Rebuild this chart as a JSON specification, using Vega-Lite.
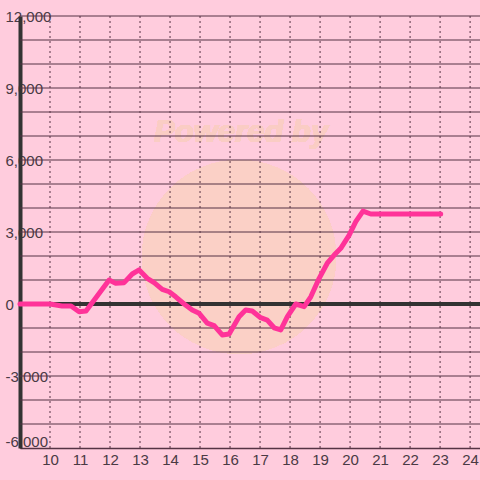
{
  "$schema": "https://vega.github.io/schema/vega-lite/v6.json",
  "autosize": {"type": "none"},
  "padding": {"left": 20, "top": 16, "right": 0, "bottom": 32},
  "width": 460,
  "height": 432,
  "background": "#ffccdd",
  "config": {"view": {"stroke": null}},
  "datasets": {
    "series": [
      {"h": 9.0, "v": 0}, {"h": 10.0, "v": 0}, {"h": 10.4, "v": -80}, {"h": 10.7, "v": -80},
      {"h": 10.97, "v": -320}, {"h": 11.2, "v": -290}, {"h": 11.97, "v": 1000}, {"h": 12.19, "v": 860},
      {"h": 12.47, "v": 890}, {"h": 12.74, "v": 1250}, {"h": 12.97, "v": 1420}, {"h": 13.24, "v": 1070},
      {"h": 13.47, "v": 890}, {"h": 13.74, "v": 610}, {"h": 13.97, "v": 510}, {"h": 14.19, "v": 300},
      {"h": 14.47, "v": 0}, {"h": 14.74, "v": -250}, {"h": 14.97, "v": -390}, {"h": 15.24, "v": -800},
      {"h": 15.47, "v": -900}, {"h": 15.74, "v": -1290}, {"h": 15.97, "v": -1250}, {"h": 16.3, "v": -530},
      {"h": 16.52, "v": -250}, {"h": 16.74, "v": -290}, {"h": 17.02, "v": -570}, {"h": 17.24, "v": -670},
      {"h": 17.47, "v": -990}, {"h": 17.69, "v": -1080}, {"h": 17.91, "v": -530}, {"h": 18.19, "v": 0},
      {"h": 18.47, "v": -110}, {"h": 18.69, "v": 300}, {"h": 18.97, "v": 1070}, {"h": 19.24, "v": 1700},
      {"h": 19.47, "v": 2040}, {"h": 19.69, "v": 2320}, {"h": 19.97, "v": 2870}, {"h": 20.19, "v": 3430},
      {"h": 20.43, "v": 3870}, {"h": 20.69, "v": 3750}, {"h": 23.02, "v": 3750}
    ],
    "hours": [
      {"h": 10}, {"h": 11}, {"h": 12}, {"h": 13}, {"h": 14}, {"h": 15}, {"h": 16}, {"h": 17},
      {"h": 18}, {"h": 19}, {"h": 20}, {"h": 21}, {"h": 22}, {"h": 23}, {"h": 24}
    ],
    "levels": [
      {"v": -5000}, {"v": -4000}, {"v": -3000}, {"v": -2000}, {"v": -1000}, {"v": 1000},
      {"v": 2000}, {"v": 3000}, {"v": 4000}, {"v": 5000}, {"v": 6000}, {"v": 7000}, {"v": 8000},
      {"v": 9000}, {"v": 10000}, {"v": 11000}, {"v": 12000}
    ]
  },
  "layer": [
    {
      "data": {"name": "series"},
      "mark": {"type": "point", "filled": true, "fill": "#fbd0c6", "opacity": 1, "size": 37600},
      "encoding": {
        "x": {
          "datum": 16.3, "type": "quantitative",
          "scale": {"domain": [9, 24.33], "nice": false, "zero": false},
          "axis": {
            "title": null,
            "tickCount": 15,
            "labelExpr": "datum.value < 9.5 ? '' : datum.label",
            "grid": false,
            "ticks": false, "tickSize": 0,
            "domain": true, "domainColor": "#553344", "domainWidth": 1.5,
            "labelPadding": 4, "labelFont": "Liberation Sans", "labelFontSize": 15, "labelColor": "#4a3a44",
            "labelFlush": false, "labelOverlap": false
          }
        },
        "y": {
          "datum": 1960, "type": "quantitative",
          "scale": {"domain": [-6000, 12000], "nice": false},
          "axis": {
            "title": null,
            "tickCount": 18,
            "labelExpr": "datum.value % 3000 === 0 ? replace(format(datum.value, ','), '\u2212', '-') : ''",
            "grid": false,
            "ticks": false, "tickSize": 0,
            "domain": true, "domainColor": "#333333", "domainWidth": 4,
            "labelAlign": "left", "labelPadding": 15, "labelFont": "Liberation Sans", "labelFontSize": 15, "labelColor": "#4a3a44",
            "labelOffset": {"condition": {"test": "datum.value == -6000", "value": -7}, "value": 0},
            "labelFlush": false, "labelOverlap": false
          }
        }
      }
    },
    {
      "data": {"name": "series"},
      "mark": {"type": "text", "text": "Powered by", "font": "Liberation Sans", "fontSize": 31, "fontWeight": "bold", "fontStyle": "italic", "color": "#facdc4", "align": "center", "baseline": "middle"},
      "encoding": {
        "x": {"datum": 16.37, "type": "quantitative"},
        "y": {"datum": 7125, "type": "quantitative"}
      }
    },
    {
      "data": {"name": "hours"},
      "mark": {"type": "rule", "color": "#553344", "strokeWidth": 1, "strokeDash": [2, 3]},
      "encoding": {"x": {"field": "h", "type": "quantitative"}}
    },
    {
      "data": {"name": "levels"},
      "mark": {"type": "rule", "color": "#553344", "strokeWidth": 1},
      "encoding": {"y": {"field": "v", "type": "quantitative"}}
    },
    {
      "data": {"name": "series"},
      "mark": {"type": "rule", "color": "#333333", "strokeWidth": 3.5},
      "encoding": {"y": {"datum": 0, "type": "quantitative"}}
    },
    {
      "data": {"name": "series"},
      "mark": {"type": "line", "color": "#ff3399", "strokeWidth": 5, "strokeCap": "round", "strokeJoin": "round"},
      "encoding": {
        "x": {"field": "h", "type": "quantitative"},
        "y": {"field": "v", "type": "quantitative"}
      }
    }
  ]
}
